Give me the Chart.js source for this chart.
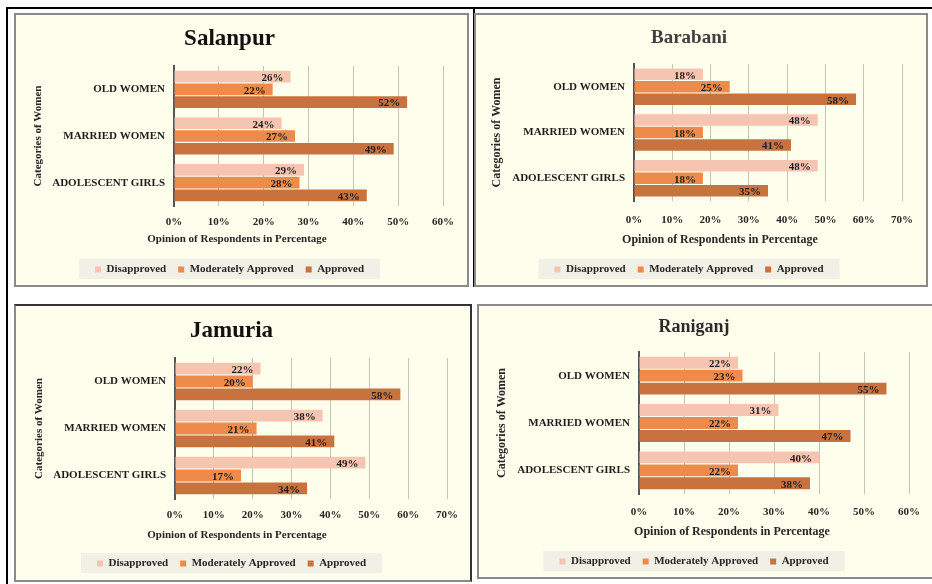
<!DOCTYPE html>
<html>
<head>
<meta charset="utf-8">
<script src="https://cdn.jsdelivr.net/npm/chart.js@4"></script>
<style>
  body { margin: 0; background: #fff; width: 932px; height: 584px; position: relative; overflow: hidden; }
  .line { position: absolute; background: #000; }
  .panel { position: absolute; border: 2px solid #8a8a8a; }
  .panel canvas { display: block; }
</style>
</head>
<body>
<div class="line" style="left:7px;top:7px;width:925px;height:2px"></div>
<div class="line" style="left:6px;top:7px;width:2px;height:577px"></div>
<div class="line" style="left:473px;top:7px;width:2px;height:280px"></div>
<div id="js-result"></div>
<script>
// 各パネル共通のカテゴリと系列名
const categories = ["OLD WOMEN", "MARRIED WOMEN", "ADOLESCENT GIRLS"];
const seriesNames = ["Disapproved", "Moderately Approved", "Approved"];
const seriesColors = ["#f6c5b1", "#ee8a4a", "#c7723f"];

// 値 (%)
const salanpurDisapproved = [26, 24, 29];
const salanpurModerate = [22, 27, 28];
const salanpurApproved = [52, 49, 43];

const barabaniDisapproved = [18, 48, 48];
const barabaniModerate = [25, 18, 18];
const barabaniApproved = [58, 41, 35];

const jamuriaDisapproved = [22, 38, 49];
const jamuriaModerate = [20, 21, 17];
const jamuriaApproved = [58, 41, 34];

const raniganjDisapproved = [22, 31, 40];
const raniganjModerate = [23, 22, 22];
const raniganjApproved = [55, 47, 38];

// X軸の最大値
const salanpurMax = 60;
const barabaniMax = 70;
const jamuriaMax = 70;
const raniganjMax = 60;

const serif = '"Liberation Serif", "DejaVu Serif", serif';
const bg = "#fefeec";

// バーの値ラベル
const barLabels = {
  id: "barLabels",
  afterDatasetsDraw(chart) {
    const ctx = chart.ctx;
    ctx.save();
    ctx.font = "bold 11px " + serif;
    ctx.fillStyle = "#1e1e1e";
    ctx.textAlign = "right";
    ctx.textBaseline = "middle";
    chart.data.datasets.forEach((ds, i) => {
      chart.getDatasetMeta(i).data.forEach((bar, j) => {
        ctx.fillText(ds.data[j] + "%", bar.x - 7, bar.y + 1.5);
      });
    });
    ctx.restore();
  },
};

// 背景と凡例の背景ボックス
const panelBg = {
  id: "panelBg",
  beforeDraw(chart) {
    const ctx = chart.ctx;
    ctx.save();
    ctx.fillStyle = bg;
    ctx.fillRect(0, 0, chart.width, chart.height);
    const lg = chart.legend;
    if (lg && lg.lineWidths) {
      const pad = lg.options.labels.padding;
      const wd = lg.lineWidths[0] - pad + 32;
      const cx = (lg.left + lg.right) / 2;
      const cy = lg.top + pad + 5;
      ctx.fillStyle = "#f0f0e6";
      ctx.fillRect(cx - wd / 2, cy - 10, wd, 20);
    }
    ctx.restore();
  },
};

// X軸タイトル (Excel風にチャート全体で中央寄せ)
const xTitle = {
  id: "xTitle",
  afterDraw(chart, args, opts) {
    const ctx = chart.ctx;
    ctx.save();
    ctx.font = "bold " + opts.size + "px " + serif;
    ctx.fillStyle = "#262626";
    ctx.textAlign = "center";
    ctx.textBaseline = "middle";
    ctx.fillText(opts.text, opts.x, opts.y);
    ctx.restore();
  },
};

const panels = [
  { title: "Salanpur", titleSize: 23, titleColor: "#111", left: 16, top: 15, w: 451, h: 270,
    plotL: 158, plotR: 427, plotT: 51, plotB: 192, titleY: 24, yTitleX: 22, yTitleSize: 11,
    tickPad: 10, xt: [221, 224, 11], legendY: 255, max: salanpurMax,
    data: [salanpurDisapproved, salanpurModerate, salanpurApproved] },
  { title: "Barabani", titleSize: 19, titleColor: "#404040", left: 476, top: 15, w: 450, h: 270,
    plotL: 158, plotR: 426, plotT: 49, plotB: 187, titleY: 23, yTitleX: 21, yTitleSize: 12,
    tickPad: 13, xt: [244, 225, 12], legendY: 255, max: barabaniMax,
    data: [barabaniDisapproved, barabaniModerate, barabaniApproved] },
  { title: "Jamuria", titleSize: 23, titleColor: "#111", left: 16, top: 306, w: 454, h: 274,
    plotL: 159, plotR: 431, plotT: 52, plotB: 194, titleY: 25, yTitleX: 23, yTitleSize: 11,
    tickPad: 10, xt: [221, 229, 11], legendY: 258, max: jamuriaMax, dark: true,
    data: [jamuriaDisapproved, jamuriaModerate, jamuriaApproved] },
  { title: "Raniganj", titleSize: 18, titleColor: "#2a2a2a", left: 479, top: 306, w: 453, h: 271,
    plotL: 160, plotR: 430, plotT: 46, plotB: 189, titleY: 21, yTitleX: 23, yTitleSize: 12,
    tickPad: 12, xt: [253, 226, 12], legendY: 256, max: raniganjMax,
    data: [raniganjDisapproved, raniganjModerate, raniganjApproved] },
];

const result = document.getElementById("js-result");

panels.forEach((p) => {
  const wrap = document.createElement("div");
  wrap.className = "panel";
  wrap.style.left = p.left - 2 + "px";
  wrap.style.top = p.top - 2 + "px";
  if (p.dark) {
    wrap.style.borderTopColor = "#333";
    wrap.style.borderRightColor = "#333";
  }
  const canvas = document.createElement("canvas");
  canvas.width = p.w;
  canvas.height = p.h;
  wrap.appendChild(canvas);
  result.appendChild(wrap);

  const tlh = p.titleSize * 1.2;
  const tPadTop = p.titleY - tlh / 2;
  const tPadBottom = p.plotT - tPadTop - tlh;
  const padB = p.h - 15 - p.legendY;
  const legendPad = 12;
  const legendH = 10 + legendPad + 10;
  const xh = p.h - padB - legendH - p.plotB;

  new Chart(canvas, {
    type: "bar",
    data: {
      labels: categories,
      datasets: seriesNames.map((name, i) => ({
        label: name,
        data: p.data[i],
        backgroundColor: seriesColors[i],
        borderWidth: 0,
        categoryPercentage: 0.82,
        barPercentage: 0.92,
      })),
    },
    options: {
      indexAxis: "y",
      responsive: false,
      animation: false,
      events: [],
      layout: { padding: { left: 0, top: 0, right: p.w - p.plotR, bottom: padB } },
      scales: {
        x: {
          min: 0,
          max: p.max,
          ticks: {
            stepSize: 10,
            padding: p.tickPad,
            color: "#262626",
            font: { family: serif, size: 11, weight: "bold" },
            callback: (v) => v + "%",
          },
          grid: { color: "rgba(140,140,125,0.5)", lineWidth: 1, drawTicks: false },
          border: { display: false },
          afterFit: (s) => { s.height = xh; },
        },
        y: {
          ticks: {
            padding: 9,
            color: "#1e1e1e",
            font: { family: serif, size: 11, weight: "bold" },
          },
          grid: { display: false, drawTicks: false },
          border: { display: true, color: "#555", width: 2 },
          title: {
            display: true,
            text: "Categories of Women",
            color: "#262626",
            font: { family: serif, size: p.yTitleSize, weight: "bold" },
            padding: { top: p.yTitleX - (p.yTitleSize * 1.2) / 2, bottom: 0 },
          },
          afterFit: (s) => { s.width = p.plotL; },
        },
      },
      plugins: {
        title: {
          display: true,
          text: p.title,
          color: p.titleColor,
          font: { family: serif, size: p.titleSize, weight: "bold" },
          padding: { top: tPadTop, bottom: tPadBottom },
        },
        legend: {
          position: "bottom",
          labels: {
            boxWidth: 6,
            boxHeight: 6,
            padding: legendPad,
            color: "#262626",
            font: { family: serif, size: 11, weight: "bold" },
          },
        },
        tooltip: { enabled: false },
        xTitle: { text: "Opinion of Respondents in Percentage", x: p.xt[0], y: p.xt[1], size: p.xt[2] },
      },
    },
    plugins: [panelBg, barLabels, xTitle],
  });
});
</script>
</body>
</html>
